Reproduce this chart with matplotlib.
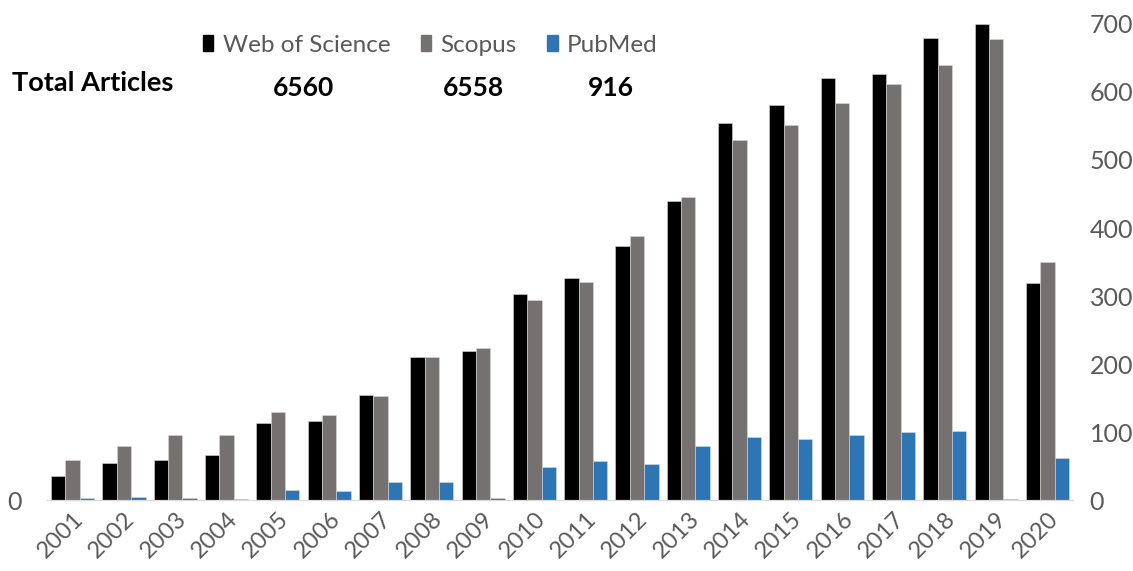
import numpy as np
import matplotlib.pyplot as plt
from matplotlib.patches import Patch

# Datos
anios = [str(a) for a in range(2001, 2021)]
wos = [35, 54, 59, 66, 113, 116, 155, 211, 219, 303, 326, 374, 439, 554, 581, 620, 626, 680, 700, 319]
scopus = [59, 80, 95, 95, 129, 125, 153, 211, 223, 294, 320, 388, 446, 530, 552, 584, 612, 640, 678, 350]
pubmed = [3, 5, 3, 2, 15, 13, 26, 26, 3, 48, 57, 53, 79, 93, 90, 95, 100, 102, 2, 62]
nombres = ['Web of Science', 'Scopus', 'PubMed']
totales = ['6560', '6558', '916']
colores = ['#000000', '#767171', '#2E75B6']

plt.rcParams['font.family'] = ['Lato', 'DejaVu Sans']
gris = '#595959'

fig = plt.figure(figsize=(11.33, 5.71), dpi=100)
ax = fig.add_axes([0.0415, 0.1243, 0.9056, 0.8337])

x = np.arange(len(anios))
w = 0.28
for k, serie in enumerate([wos, scopus, pubmed]):
    ax.bar(x + (k - 1) * w, serie, width=w, color=colores[k], edgecolor='#d9d9d9', linewidth=0.4)

ax.set_xlim(-0.5, len(anios) - 0.5)
ax.set_ylim(0, 700)
ax.set_xticks(x)
ax.set_xticklabels(anios, rotation=45, ha='right', rotation_mode='anchor', fontsize=17, color=gris)
ax.tick_params(axis='x', length=0, pad=6)

# el "0" suelto de la izquierda
ax.set_yticks([0])
ax.tick_params(axis='y', length=0, labelsize=18, labelcolor=gris, pad=18)

# eje derecho con las escalas
ax2 = ax.twinx()
ax2.set_ylim(0, 700)
ax2.set_yticks(range(0, 701, 100))
ax2.tick_params(axis='y', length=0, labelsize=18, labelcolor=gris, pad=12)

for a in (ax, ax2):
    for s in ['top', 'right', 'left']:
        a.spines[s].set_visible(False)
    a.spines['bottom'].set_color('#d9d9d9')

# leyenda
handles = [Patch(color=c, label=n) for c, n in zip(colores, nombres)]
fig.legend(handles=handles, ncol=3, loc='center left', bbox_to_anchor=(0.179, 0.921),
           frameon=False, fontsize=17.5, handlelength=0.42, handleheight=0.6,
           handletextpad=0.4, columnspacing=1.25, labelcolor=gris, borderpad=0,
           borderaxespad=0)

fig.text(0.011, 0.855, 'Total Articles', fontsize=19.5, fontweight='bold', va='center')
pos_tot = [0.268, 0.418, 0.539]
for p, t in zip(pos_tot, totales):
    fig.text(p, 0.846, t, fontsize=19, fontweight='bold', ha='center', va='center')

plt.savefig('out.png', dpi=100)
